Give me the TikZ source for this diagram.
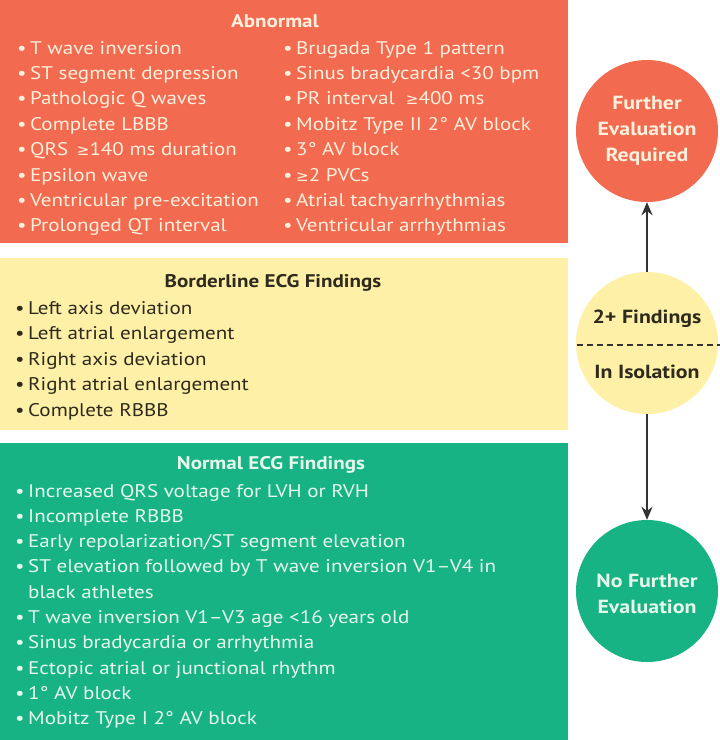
\documentclass[tikz,border=0pt]{standalone}
\usepackage{fontspec}
\setmainfont{PT Sans}[FakeStretch=1.15]
\newfontfamily\symf{DejaVu Sans}
\usetikzlibrary{arrows.meta}
\definecolor{abred}{HTML}{F26A4F}
\definecolor{bdyel}{HTML}{FEF0A6}
\definecolor{nmgrn}{HTML}{17B384}
\definecolor{crm}{HTML}{FDF0DC}
\definecolor{ltg}{HTML}{E6F8EC}
\definecolor{dk}{HTML}{2E2A1E}
\definecolor{arr}{HTML}{333333}
\newcommand\bul{\makebox[13pt][l]{•}}
\newcommand\gee{{\symf\fontsize{15}{15}\selectfont ≥}}
\begin{document}
\begin{tikzpicture}[x=1pt,y=-1pt,
  item/.style={anchor=base west,inner sep=0pt,font=\fontsize{18.3}{21}\selectfont},
  head/.style={anchor=base,inner sep=0pt,font=\bfseries\fontsize{18.3}{21}\selectfont},
  circ/.style={circle,minimum size=142pt,inner sep=0pt},
  ctext/.style={align=center,inner sep=0pt,font=\bfseries\fontsize{19}{26}\selectfont},
  conn/.style={line width=2.6pt,draw=arr,-{Stealth[length=13pt,width=11pt]}}]
\useasboundingbox (0,0) rectangle (720,740);
\fill[white] (0,0) rectangle (720,740);
% panels
\fill[abred] (0,0) rectangle (568,243);
\fill[bdyel] (0,258) rectangle (568,430);
\fill[nmgrn] (0,443) rectangle (568,740);
% Abnormal
\node[head,text=crm] (abh) at (275,27) {Abnormal};
\foreach \t [count=\i] in {T wave inversion,ST segment depression,Pathologic Q waves,Complete LBBB,{QRS \,\gee140 ms duration},Epsilon wave,Ventricular pre-excitation,Prolonged QT interval}
  \node[item,text=crm] (abl\i) at (17,{54+25.4*(\i-1)}) {\bul\t};
\foreach \t [count=\i] in {Brugada Type 1 pattern,Sinus bradycardia <30 bpm,{PR interval \ \gee400 ms},Mobitz Type II 2° AV block,3° AV block,{\gee2 PVCs},Atrial tachyarrhythmias,Ventricular arrhythmias}
  \node[item,text=crm] (abr\i) at (283,{54+25.4*(\i-1)}) {\bul\t};
% Borderline
\node[head,text=dk] (bdh) at (273,287) {Borderline ECG Findings};
\foreach \t [count=\i] in {Left axis deviation,Left atrial enlargement,Right axis deviation,Right atrial enlargement,Complete RBBB}
  \node[item,text=dk] (bd\i) at (15,{314+25.5*(\i-1)}) {\bul\t};
% Normal
\node[head,text=ltg] (nmh) at (271,469) {Normal ECG Findings};
\foreach \t [count=\i] in {Increased QRS voltage for LVH or RVH,Incomplete RBBB,Early repolarization/ST segment elevation,ST elevation followed by T wave inversion V1–V4 in,\hspace*{13pt}black athletes,T wave inversion V1–V3 age <16 years old,Sinus bradycardia or arrhythmia,Ectopic atrial or junctional rhythm,1° AV block,Mobitz Type I 2° AV block}
  \node[item,text=ltg] (nm\i) at (15,{497+25.33*(\i-1)}) {\ifnum\i=5 \t\else\bul\t\fi};
% circles
\node[circ,fill=abred] (fer) at (647,131) {};
\node[ctext,text=crm] (fert) at (647,131) {Further\\Evaluation\\Required};
\node[circ,fill=bdyel] (iso) at (647,343) {};
\node[ctext,text=dk,anchor=base] (two) at (647,323) {2+ Findings};
\node[ctext,text=dk,anchor=base] (inl) at (647,378) {In Isolation};
\coordinate (dl) at (577,345);
\coordinate (dr) at (720,345);
\draw[arr,line width=1.4pt,dash pattern=on 6pt off 4pt] (dl) -- (dr);
\node[circ,fill=nmgrn] (nfe) at (647,591) {};
\node[ctext,text=ltg] (nfet) at (647,594) {No Further\\Evaluation};
% connectors
\draw[conn] (iso.north) -- (fer.south);
\draw[conn] (iso.south) -- (nfe.north);
\end{tikzpicture}
\end{document}
